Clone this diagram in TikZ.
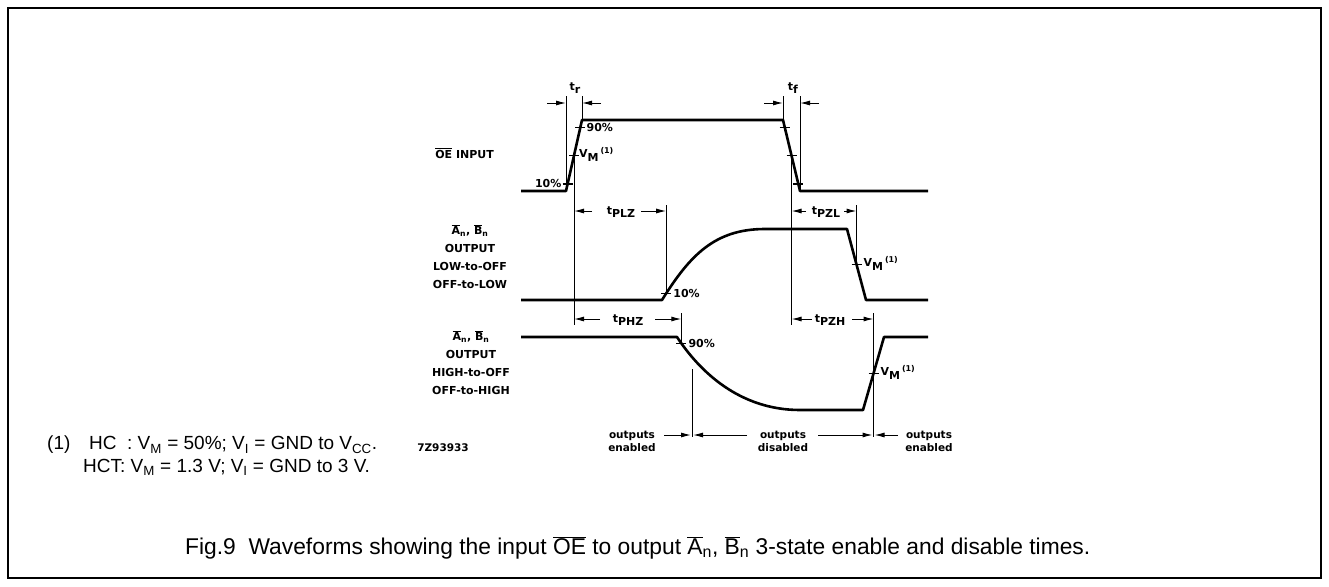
\documentclass[tikz,border=0pt]{standalone}
\usepackage{fontspec}
\setmainfont{Liberation Sans}
\newfontfamily\wavefont{DejaVu Sans}
\usetikzlibrary{arrows.meta,calc}
\newcommand{\ovl}[1]{$\overline{\mbox{#1}}$}
\newcommand{\tsub}[1]{\raisebox{3.5pt}{t}#1}
\newcommand{\vmark}{V\raisebox{-4pt}{M}\,\raisebox{4pt}{\fontsize{8}{8}\selectfont(1)}}
\begin{document}
\begin{tikzpicture}[x=1pt, y=-1pt, align=center]
	% Styles
	\tikzstyle{wave} = [line width=2.6pt, line join=round]
	\tikzstyle{dim} = [line width=1pt]
	\tikzstyle{dimarrow} = [line width=1pt, -{Latex[length=10pt,width=5pt]}]
	\tikzstyle{tick} = [line width=1.2pt]
	\tikzstyle{lbl} = [font=\wavefont\bfseries\fontsize{11}{18}\selectfont, inner sep=1pt]
	\tikzstyle{small} = [font=\wavefont\bfseries\fontsize{10.5}{13}\selectfont, inner sep=1pt]
	\tikzstyle{note} = [font=\fontsize{19}{22}\selectfont, inner sep=0pt, anchor=west]

	\useasboundingbox (0,0) rectangle (1329,586);
	\draw[line width=1.2pt] (8,8) rectangle (1321,578);

	% Reference levels
	\coordinate (top) at (0,96);
	\coordinate (tlev) at (0,103);
	\coordinate (plev) at (0,211);
	\coordinate (hlev) at (0,319);
	\coordinate (elev) at (0,435);

	% OE input waveform
	\coordinate (oe0) at (521,191);
	\coordinate (oe1) at (566,191);
	\coordinate (oe2) at (582,120);
	\coordinate (oe3) at (783,120);
	\coordinate (oe4) at (800,191);
	\coordinate (oe5) at (928,191);
	\draw[wave] (oe0) -- (oe1) -- (oe2) -- (oe3) -- (oe4) -- (oe5);
	\coordinate (r10) at ($(oe1)!0.1!(oe2)$);
	\coordinate (rvm) at ($(oe1)!0.5!(oe2)$);
	\coordinate (r90) at ($(oe1)!0.9!(oe2)$);
	\coordinate (f90) at ($(oe3)!0.1!(oe4)$);
	\coordinate (fvm) at ($(oe3)!0.5!(oe4)$);
	\coordinate (f10) at ($(oe3)!0.9!(oe4)$);
	\foreach \p in {r10,rvm,r90,f90,fvm,f10}
		\draw[tick] ([xshift=-5]\p) -- ([xshift=5]\p);

	% LOW-to-OFF waveform
	\coordinate (lo0) at (521,300);
	\coordinate (lo1) at (662,300);
	\coordinate (lo2) at (765,229);
	\coordinate (lo3) at (847,229);
	\coordinate (lo4) at (866,300);
	\coordinate (lo5) at (928,300);
	\draw[wave] (lo0) -- (lo1) .. controls (690,255) and (715,229) .. coordinate[pos=0.05] (l10) (lo2)
		-- (lo3) -- (lo4) -- (lo5);
	\coordinate (lvm) at ($(lo3)!0.5!(lo4)$);
	\foreach \p in {l10,lvm}
		\draw[tick] ([xshift=-5]\p) -- ([xshift=5]\p);

	% HIGH-to-OFF waveform
	\coordinate (hi0) at (521,337);
	\coordinate (hi1) at (677,337);
	\coordinate (hi2) at (800,410);
	\coordinate (hi3) at (863,410);
	\coordinate (hi4) at (884,337);
	\coordinate (hi5) at (928,337);
	\draw[wave] (hi0) -- (hi1) .. controls (700,372) and (740,410) .. coordinate[pos=0.06] (h90) (hi2)
		-- (hi3) -- (hi4) -- (hi5);
	\coordinate (hvm) at ($(hi3)!0.5!(hi4)$);
	\foreach \p in {h90,hvm}
		\draw[tick] ([xshift=-5]\p) -- ([xshift=5]\p);

	% Nodes
	\node[lbl, anchor=east] (oeLabel) at (495,153) {\ovl{OE} INPUT};
	\node[lbl] (lowLabel) at (470,257) {\ovl{A}\textsubscript{n}, \ovl{B}\textsubscript{n}\\OUTPUT\\LOW-to-OFF\\OFF-to-LOW};
	\node[lbl] (highLabel) at (471,363) {\ovl{A}\textsubscript{n}, \ovl{B}\textsubscript{n}\\OUTPUT\\HIGH-to-OFF\\OFF-to-HIGH};
	\node[lbl, anchor=east] (r10Label) at ([xshift=-5]r10) {10\%};
	\node[lbl, anchor=west] (r90Label) at ([xshift=5]r90) {90\%};
	\node[lbl, anchor=west] (rvmLabel) at ([xshift=4,yshift=1]rvm) {\vmark};
	\node[lbl, anchor=west] (l10Label) at ([xshift=6]l10) {10\%};
	\node[lbl, anchor=west] (lvmLabel) at ([xshift=6,yshift=1]lvm) {\vmark};
	\node[lbl, anchor=west] (h90Label) at ([xshift=6]h90) {90\%};
	\node[lbl, anchor=west] (hvmLabel) at ([xshift=6,yshift=1]hvm) {\vmark};
	\node[lbl] (trLabel) at (575,88) {\tsub{r}};
	\node[lbl] (tfLabel) at (793,88) {\tsub{f}};
	\node[lbl] (tplzLabel) at (621,212) {\tsub{PLZ}};
	\node[lbl] (tphzLabel) at (628,320) {\tsub{PHZ}};
	\node[lbl] (tpzlLabel) at (826,212) {\tsub{PZL}};
	\node[lbl] (tpzhLabel) at (830,320) {\tsub{PZH}};
	\node[small] (enA) at (632,441) {outputs\\enabled};
	\node[small] (dis) at (783,441) {outputs\\disabled};
	\node[small] (enB) at (929,441) {outputs\\enabled};
	\node[font=\wavefont\bfseries\fontsize{10.5}{12}\selectfont] (code) at (443,448) {7Z93933};
	\node[note] (fn) at (47,445) {(1)};
	\node[note] (fnHC) at (89,445) {HC\ \ : V\textsubscript{M} = 50\%; V\textsubscript{I} = GND to V\textsubscript{CC}.};
	\node[note] (fnHCT) at (83,467) {HCT: V\textsubscript{M} = 1.3 V; V\textsubscript{I} = GND to 3 V.};
	\node[font=\fontsize{22.8}{26}\selectfont, anchor=west, inner sep=0pt] (caption) at (185,548)
		{Fig.9\ \ Waveforms showing the input \ovl{OE} to output \ovl{A}\textsubscript{n}, \ovl{B}\textsubscript{n} 3-state enable and disable times.};

	% Arrows
	\draw[dim] (oe1) -- (oe1 |- top);
	\draw[dim] (oe2) -- (oe2 |- top);
	\draw[dim] (oe3) -- (oe3 |- top);
	\draw[dim] (oe4) -- (oe4 |- top);
	\draw[dimarrow] ([xshift=-19]oe1 |- tlev) -- (oe1 |- tlev);
	\draw[dimarrow] ([xshift=19]oe2 |- tlev) -- (oe2 |- tlev);
	\draw[dimarrow] ([xshift=-19]oe3 |- tlev) -- (oe3 |- tlev);
	\draw[dimarrow] ([xshift=19]oe4 |- tlev) -- (oe4 |- tlev);

	\draw[dim] (rvm) -- ([yshift=-6]rvm |- hlev);
	\draw[dim] (fvm) -- ([yshift=-6]fvm |- hlev);
	\draw[dim] (l10) -- ([yshift=6]l10 |- plev);
	\draw[dim] (lvm) -- ([yshift=6]lvm |- plev);
	\draw[dim] (h90) -- ([yshift=6]h90 |- hlev);
	\draw[dim] ([yshift=6]hvm |- hlev) -- ([yshift=-2]hvm |- elev);
	\draw[dim] (692,369) -- ([yshift=-2]692,435);

	\draw[dimarrow] (592,211) -- (rvm |- plev);
	\draw[dimarrow] (641,211) -- (l10 |- plev);
	\draw[dimarrow] (600,319) -- (rvm |- hlev);
	\draw[dimarrow] (655,319) -- (h90 |- hlev);
	\draw[dimarrow] (806,211) -- (fvm |- plev);
	\draw[dimarrow] (844,211) -- (lvm |- plev);
	\draw[dimarrow] (812,319) -- (fvm |- hlev);
	\draw[dimarrow] (852,319) -- (hvm |- hlev);

	\draw[dimarrow] (664,435) -- (691,435);
	\draw[dimarrow] (747,435) -- (693,435);
	\draw[dimarrow] (818,435) -- ([xshift=-1]hvm |- elev);
	\draw[dimarrow] (898,435) -- ([xshift=1]hvm |- elev);
\end{tikzpicture}
\end{document}
